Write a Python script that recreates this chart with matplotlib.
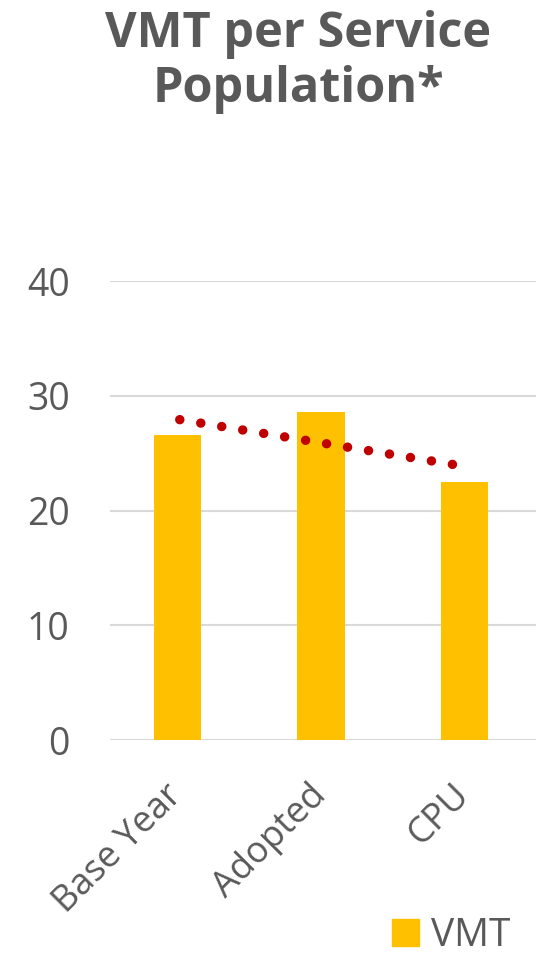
import matplotlib.pyplot as plt
from matplotlib.patches import Patch
import numpy as np

plt.rcParams['font.family'] = ['Open Sans', 'DejaVu Sans']

categories = ["Base Year", "Adopted", "CPU"]
vmt = [26.6, 28.6, 22.5]
y_ticks = [0, 10, 20, 30, 40]

text_col = "#595959"
bar_col = "#FFC000"
trend_col = "#C00000"

fig = plt.figure(figsize=(5.38, 9.55), dpi=100)
ax = fig.add_axes([110 / 538, 1 - 740 / 955, 426 / 538, 459 / 955])

x = np.arange(len(categories))
ax.bar(x, vmt, width=0.33, color=bar_col, zorder=2, label="VMT")

# linear trendline through the bars
k, b = np.polyfit(x, vmt, 1)
ax.plot(x, k * x + b, color=trend_col, lw=6.8, linestyle=(2, (0.01, 2.24)),
        dash_capstyle='round', zorder=3)

ax.set_xlim(-0.47, 2.5)
ax.set_ylim(0, 40)
ax.set_yticks(y_ticks)
ax.set_yticklabels([str(t) for t in y_ticks])
ax.grid(axis='y', color="#D9D9D9", lw=1.5, zorder=0)
ax.set_axisbelow(True)
for s in ["top", "right", "left", "bottom"]:
    ax.spines[s].set_visible(False)
ax.tick_params(axis='y', length=0, labelsize=27, labelcolor=text_col, pad=29)
ax.tick_params(axis='x', length=0, labelsize=26, labelcolor=text_col, pad=36)
ax.set_xticks(x)
ax.set_xticklabels(categories, rotation=45, ha='right', va='center',
                   rotation_mode='anchor')

fig.text(298 / 538, 1 - 47 / 955, "VMT per Service", ha='center', va='baseline',
         fontsize=35, fontweight='bold', color=text_col)
fig.text(298 / 538, 1 - 102 / 955, "Population*", ha='center', va='baseline',
         fontsize=35, fontweight='bold', color=text_col)

fig.legend(handles=[Patch(color=bar_col, label="VMT")], loc='lower right',
           bbox_to_anchor=(510 / 538, 0.0), frameon=False, fontsize=28,
           labelcolor=text_col, handlelength=0.7, handleheight=0.7,
           handletextpad=0.3, borderaxespad=0.0, borderpad=0.0)

fig.savefig("out.png", dpi=100)
